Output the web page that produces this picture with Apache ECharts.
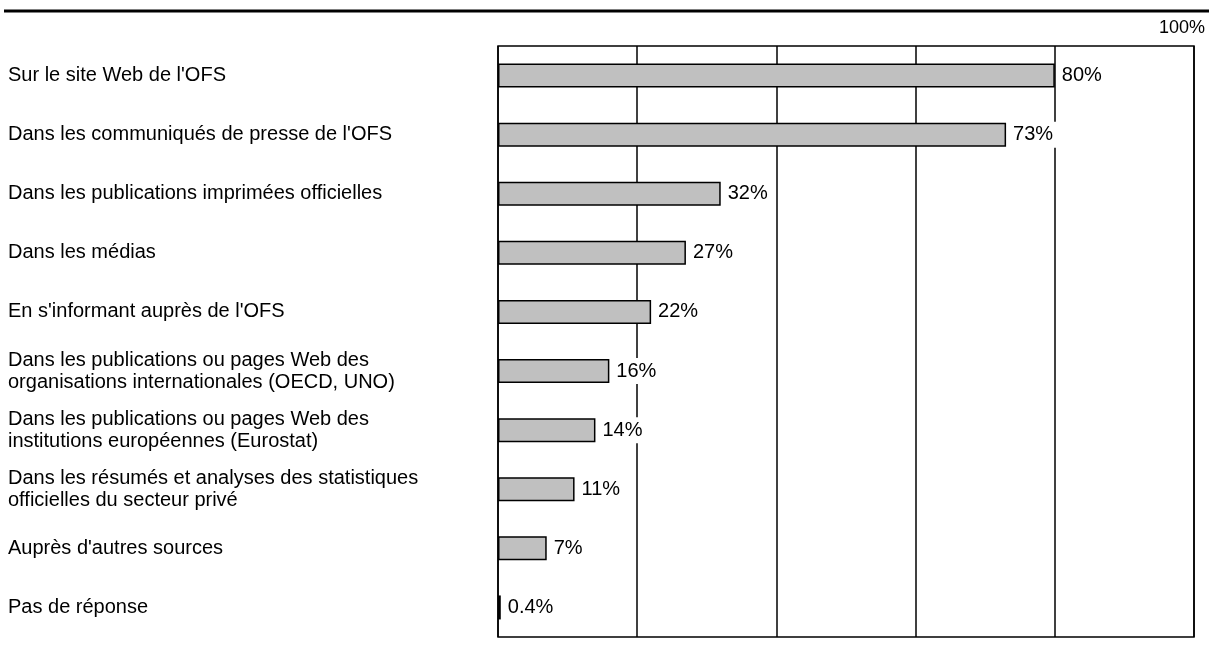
<!DOCTYPE html>
<html>
<head>
<meta charset="utf-8">
<script src="https://cdn.jsdelivr.net/npm/echarts@6/dist/echarts.min.js"></script>
<style>
  html, body { margin: 0; padding: 0; background: #fff; }
  #main { width: 1209px; height: 655px; }
</style>
</head>
<body>
<div id="main"></div>
<script>
const categories = [
  "Sur le site Web de l'OFS",
  "Dans les communiqués de presse de l'OFS",
  "Dans les publications imprimées officielles",
  "Dans les médias",
  "En s'informant auprès de l'OFS",
  "Dans les publications ou pages Web des\norganisations internationales (OECD, UNO)",
  "Dans les publications ou pages Web des\ninstitutions européennes (Eurostat)",
  "Dans les résumés et analyses des statistiques\nofficielles du secteur privé",
  "Auprès d'autres sources",
  "Pas de réponse"
]
const values = [80, 73, 32, 27, 22, 16, 14, 11, 7, 0.4]
const scaleMax = 100
const scaleStep = 20

let chart = echarts.init(document.getElementById('main'))
let option = {
  animation: false,
  textStyle: { fontFamily: 'Liberation Sans, Arial, sans-serif' },
  graphic: [
    {
      type: 'line',
      shape: { x1: 4, y1: 11, x2: 1209, y2: 11 },
      style: { stroke: '#000', lineWidth: 3 }
    },
    {
      type: 'text',
      right: 4,
      top: 19,
      style: { text: scaleMax + '%', fontSize: 18, fill: '#000', fontFamily: 'Liberation Sans, Arial, sans-serif' }
    }
  ],
  grid: {
    left: 498,
    right: 15,
    top: 46,
    bottom: 18,
    show: true,
    borderColor: '#000',
    borderWidth: 1.5,
    containLabel: false
  },
  xAxis: {
    type: 'value',
    min: 0,
    max: scaleMax,
    interval: scaleStep,
    axisLabel: { show: false },
    axisTick: { show: false },
    axisLine: { show: false },
    splitLine: { show: true, lineStyle: { color: '#000', width: 1.5 } }
  },
  yAxis: {
    type: 'category',
    inverse: true,
    data: categories,
    axisTick: { show: false },
    axisLine: { show: false },
    axisLabel: {
      align: 'left',
      margin: 490,
      fontSize: 20,
      lineHeight: 22,
      color: '#000'
    }
  },
  series: [
    {
      type: 'bar',
      data: values,
      barWidth: 24,
      itemStyle: { color: '#c0c0c0', borderColor: '#000', borderWidth: 1.5 },
      label: {
        show: true,
        position: 'right',
        distance: 4,
        fontSize: 20,
        color: '#000',
        backgroundColor: '#fff',
        padding: [3, 3],
        formatter: p => p.value + '%'
      }
    }
  ]
}
chart.setOption(option)
</script>
</body>
</html>
